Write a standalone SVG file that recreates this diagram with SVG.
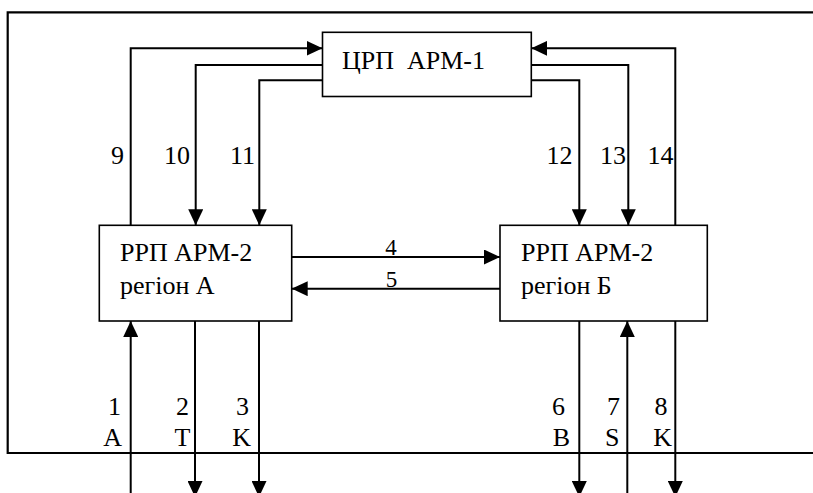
<svg xmlns="http://www.w3.org/2000/svg" width="813" height="493" viewBox="0 0 813 493">
<style>
text{font-family:"Liberation Serif","Times New Roman",Tinos,"DejaVu Serif",serif;font-size:26px;fill:#000}
.lbl{text-anchor:end}
.mid{text-anchor:middle;font-size:23px}
.box{fill:#fff;stroke:#000;stroke-width:1.6}
.c{fill:none;stroke:#000;stroke-width:2}
.a{marker-end:url(#ah)}
</style>
<defs>
<marker id="ah" markerUnits="userSpaceOnUse" markerWidth="16" markerHeight="15" refX="16" refY="7.5" orient="auto">
<path d="M0,0 L16,7.5 L0,15 z" fill="#000"/>
</marker>
</defs>
<path d="M813,12.3 H7.7 V453 H813" fill="none" stroke="#000" stroke-width="2.2"/>
<g id="connectors">
<path class="c a" d="M130.7,225.3 V48.3 H322.5"/>
<path class="c a" d="M322.5,65 H195.7 V225.3"/>
<path class="c a" d="M322.5,80.3 H259.3 V225.3"/>
<path class="c a" d="M531.3,80.3 H579.3 V225.3"/>
<path class="c a" d="M531.3,65 H628.3 V225.3"/>
<path class="c a" d="M675.3,225.3 V48.3 H531.3"/>
<path class="c a" d="M291.7,257 H500"/>
<path class="c a" d="M500,288.7 H291.7"/>
<path class="c a" d="M130.7,497 V321"/>
<path class="c a" d="M195,321 V497"/>
<path class="c a" d="M259,321 V497"/>
<path class="c a" d="M579.3,321 V497"/>
<path class="c a" d="M627.3,497 V321"/>
<path class="c a" d="M675.3,321 V497"/>
<text class="lbl" x="124" y="164">9</text>
<text class="lbl" x="190" y="164">10</text>
<text class="lbl" x="255" y="164">11</text>
<text class="lbl" x="572.5" y="164">12</text>
<text class="lbl" x="626" y="164">13</text>
<text class="lbl" x="673.5" y="164">14</text>
<text class="mid" x="391" y="255">4</text>
<text class="mid" x="391.5" y="287">5</text>
<text class="lbl" x="121" y="415">1</text>
<text class="lbl" x="122" y="446">A</text>
<text class="lbl" x="189" y="415">2</text>
<text class="lbl" x="190.5" y="446">T</text>
<text class="lbl" x="249" y="415">3</text>
<text class="lbl" x="251" y="446">K</text>
<text class="lbl" x="565" y="415">6</text>
<text class="lbl" x="570" y="446">B</text>
<text class="lbl" x="620" y="415">7</text>
<text class="lbl" x="619.5" y="446">S</text>
<text class="lbl" x="667.5" y="415">8</text>
<text class="lbl" x="672" y="446">K</text>
</g>
<g id="node-center">
<rect class="box" x="322.5" y="32.3" width="208.8" height="64.2"/>
<text x="342" y="69.3" xml:space="preserve">ЦРП  АРМ-1</text>
</g>
<g id="node-region-a">
<rect class="box" x="99.3" y="225.3" width="192.4" height="95.7"/>
<text x="120" y="260.7">РРП АРМ-2</text>
<text x="120" y="294">регіон А</text>
</g>
<g id="node-region-b">
<rect class="box" x="500" y="225.3" width="207.3" height="95.7"/>
<text x="521" y="260.7">РРП АРМ-2</text>
<text x="521" y="294">регіон Б</text>
</g>
</svg>
